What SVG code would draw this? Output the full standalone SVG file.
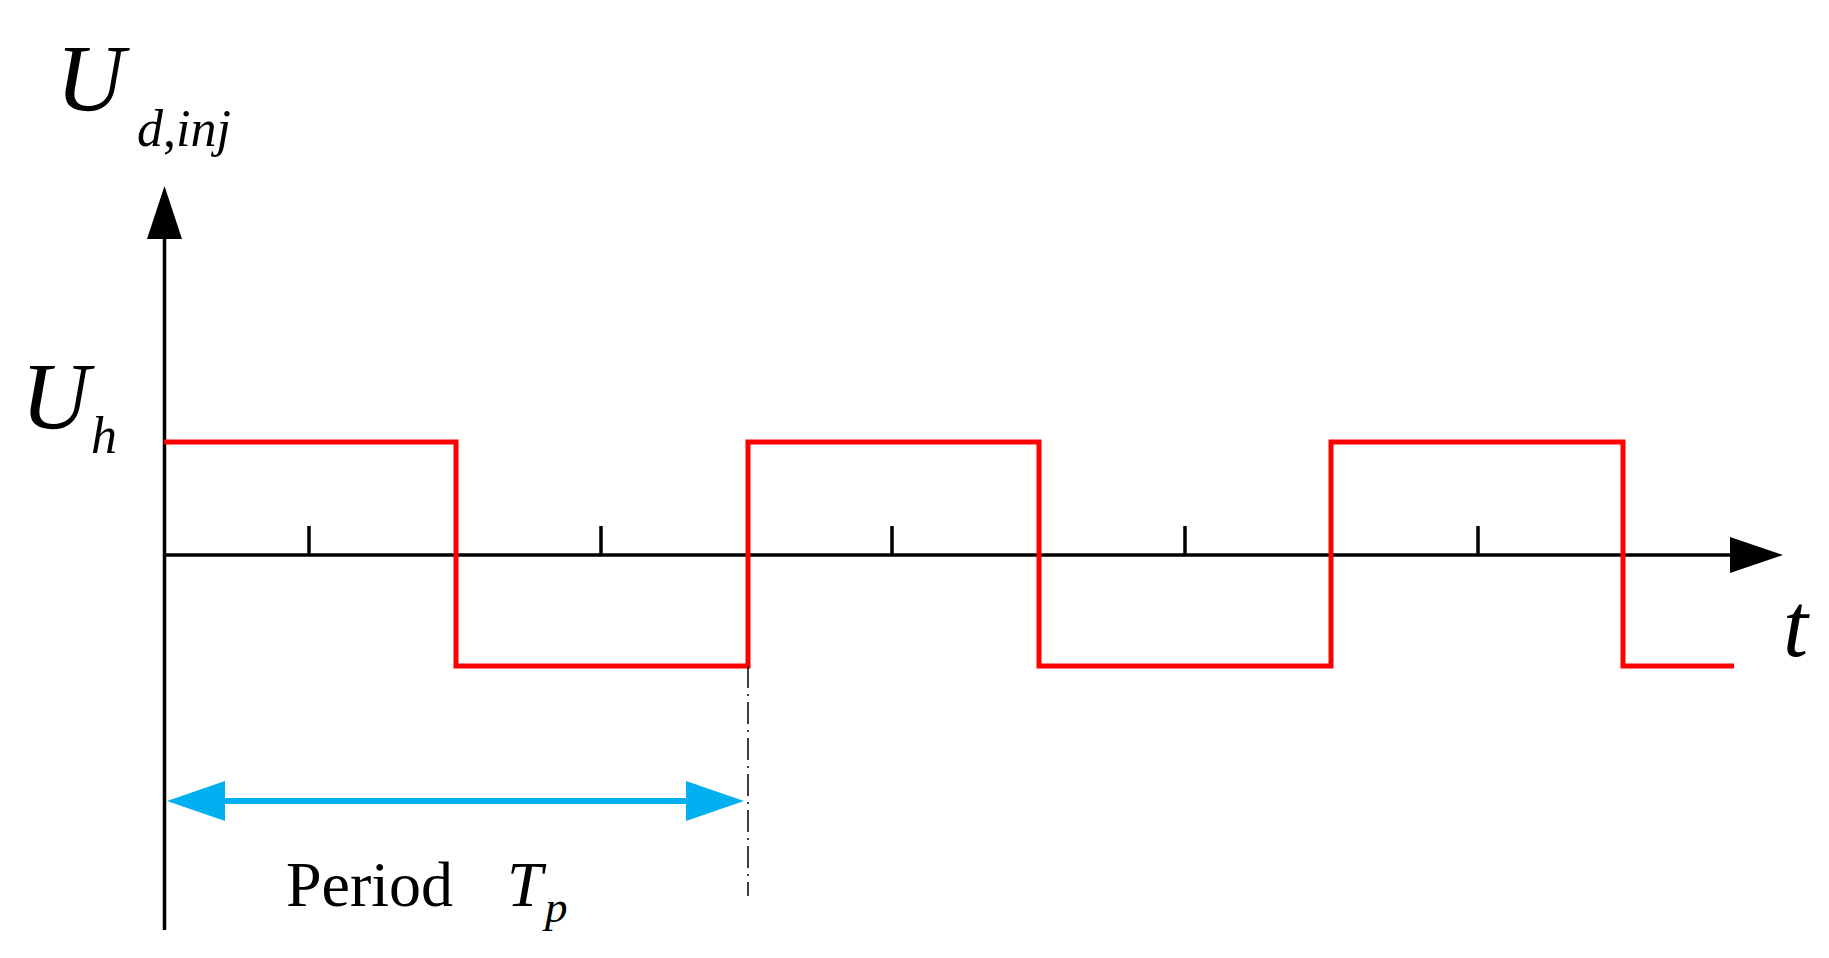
<svg xmlns="http://www.w3.org/2000/svg" width="1829" height="958" viewBox="0 0 1829 958">
<style>
.ax{stroke:#000;stroke-width:3.5;fill:none}
.sq{stroke:#f00;stroke-width:5;fill:none}
.tx{font-family:"Liberation Serif",serif;fill:#000}
.it{font-style:italic}
</style>
<rect width="1829" height="958" fill="#fff"/>
<g id="axes">
<line class="ax" x1="164.5" y1="235" x2="164.5" y2="930"/>
<polygon points="164.5,186 147,239 182,239" fill="#000"/>
<line class="ax" x1="164" y1="555" x2="1735" y2="555"/>
<polygon points="1783,555 1730,537 1730,573" fill="#000"/>
<g class="ax"><line x1="309" y1="526" x2="309" y2="555"/><line x1="601" y1="526" x2="601" y2="555"/><line x1="892" y1="526" x2="892" y2="555"/><line x1="1185" y1="526" x2="1185" y2="555"/><line x1="1478" y1="526" x2="1478" y2="555"/></g>
</g>
<g id="signal">
<polyline class="sq" points="164,442 456,442 456,666 748,666 748,442 1039,442 1039,666 1331,666 1331,442 1623,442 1623,666 1734,666"/>
</g>
<g id="connectors">
<line x1="748" y1="666" x2="748" y2="896" stroke="#000" stroke-width="1.5" stroke-dasharray="22,6,2,6"/>
<line x1="215" y1="801" x2="695" y2="801" stroke="#00b0f0" stroke-width="6"/>
<polygon points="167,801 225,781 225,821" fill="#00b0f0"/>
<polygon points="744,801 686,781 686,821" fill="#00b0f0"/>
</g>
<g id="labels">
<text class="tx it" x="56" y="111" font-size="95">U</text>
<text class="tx it" x="137" y="146" font-size="52">d<tspan font-style="normal">,</tspan>inj</text>
<text class="tx it" x="21" y="429" font-size="95">U</text>
<text class="tx it" x="91" y="453" font-size="52">h</text>
<text class="tx it" x="1783" y="656" font-size="90">t</text>
<text class="tx" x="286" y="906" font-size="64">Period</text>
<text class="tx it" x="507" y="906" font-size="64">T</text>
<text class="tx it" x="545" y="922" font-size="45">p</text>
</g>
</svg>
